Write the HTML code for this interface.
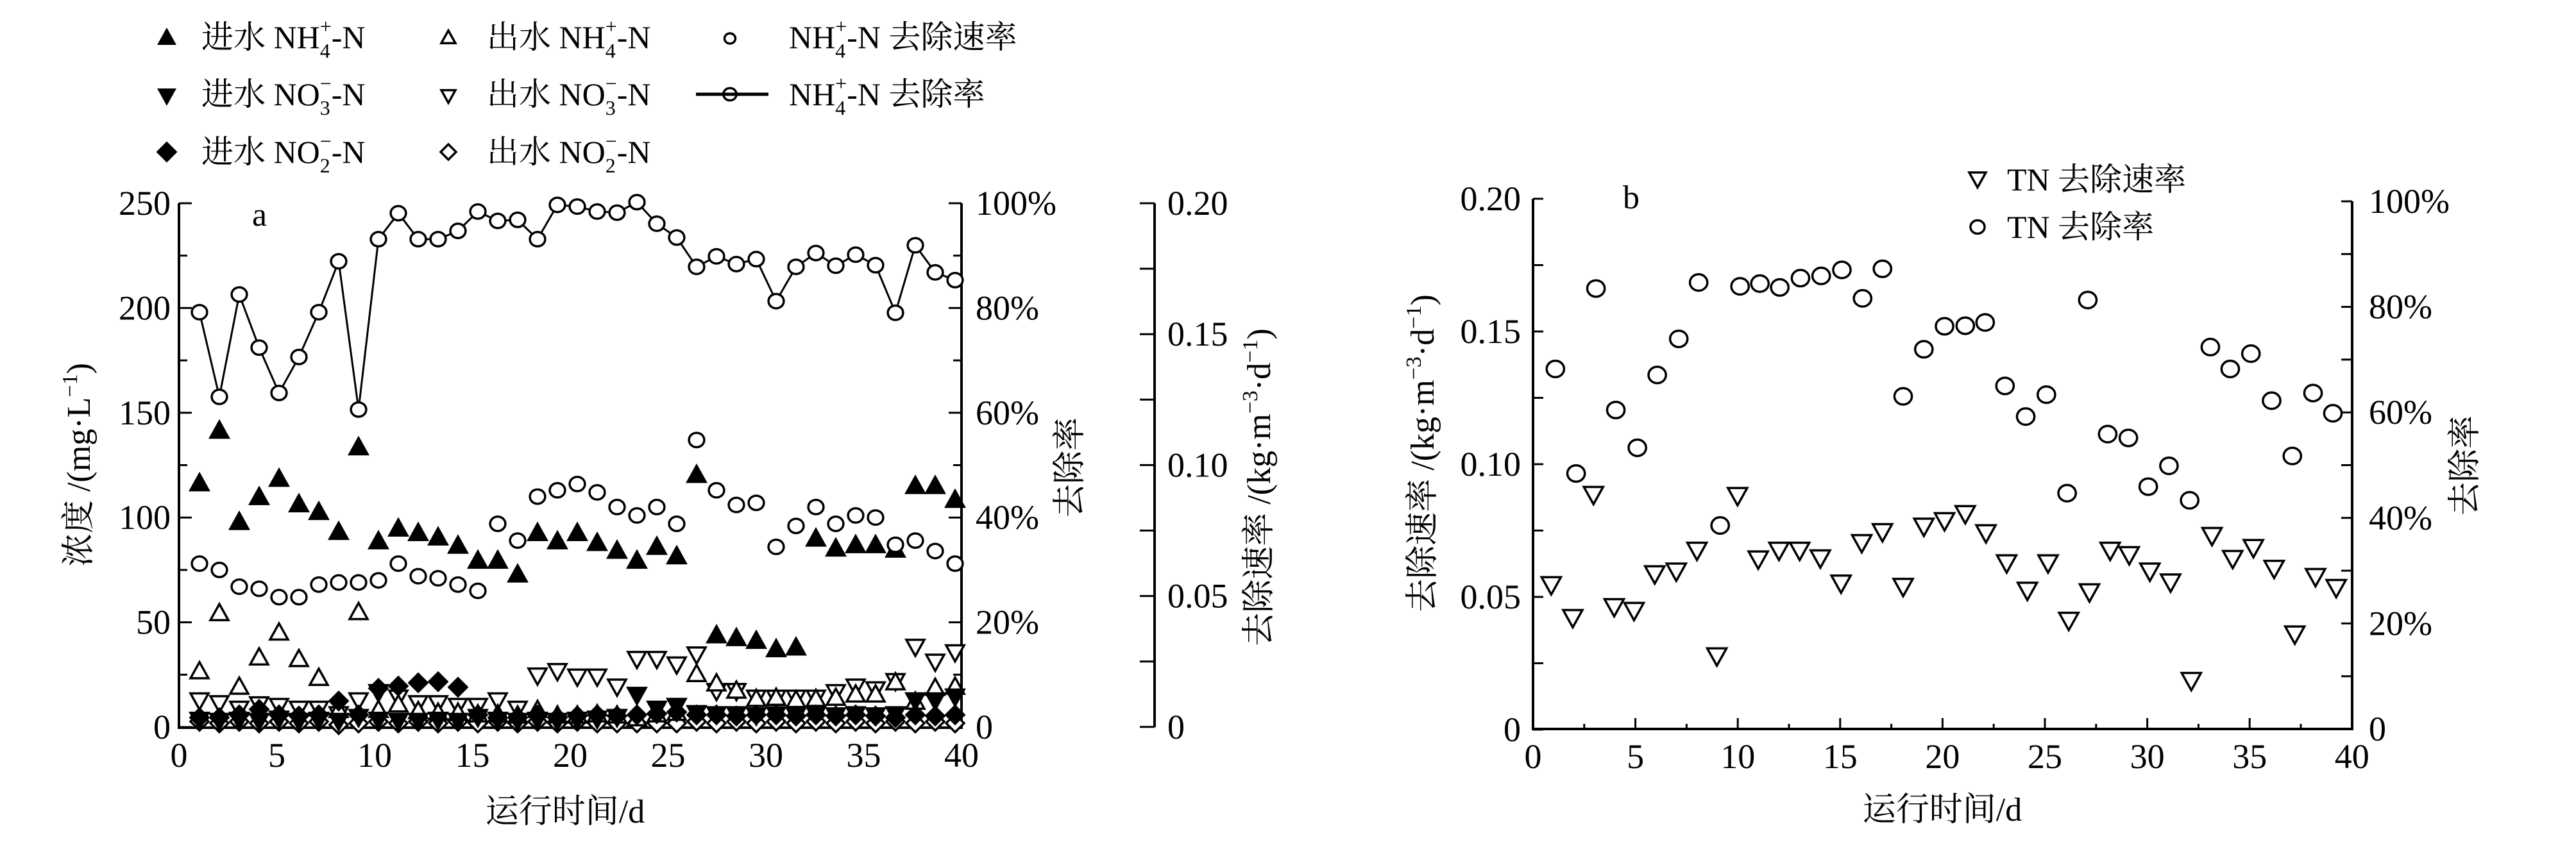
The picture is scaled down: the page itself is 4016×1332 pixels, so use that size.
<!DOCTYPE html>
<html><head><meta charset="utf-8"><style>
html,body{margin:0;padding:0;background:#fff;}
svg{display:block;}
text{font-family:"Liberation Serif","Noto Serif CJK SC",serif;fill:#000;}
</style></head><body>
<svg id="s" width="4016" height="1332" viewBox="0 0 4016 1332" xmlns="http://www.w3.org/2000/svg">
<rect width="4016" height="1332" fill="#fff"/>
<g id="g"></g>
<g font-size="50">
<text x="314" y="75">进水 NH<tspan font-size="32" dy="15">4</tspan><tspan font-size="32" dx="-16" dy="-38">+</tspan><tspan dy="23">-N</tspan></text>
<text x="759" y="75">出水 NH<tspan font-size="32" dy="15">4</tspan><tspan font-size="32" dx="-16" dy="-38">+</tspan><tspan dy="23">-N</tspan></text>
<text x="1230" y="75">NH<tspan font-size="32" dy="15">4</tspan><tspan font-size="32" dx="-16" dy="-38">+</tspan><tspan dy="23">-N 去除速率</tspan></text>
<text x="314" y="164">进水 NO<tspan font-size="32" dy="15">3</tspan><tspan font-size="32" dx="-16" dy="-38">−</tspan><tspan dy="23">-N</tspan></text>
<text x="759" y="164">出水 NO<tspan font-size="32" dy="15">3</tspan><tspan font-size="32" dx="-16" dy="-38">−</tspan><tspan dy="23">-N</tspan></text>
<text x="1230" y="164">NH<tspan font-size="32" dy="15">4</tspan><tspan font-size="32" dx="-16" dy="-38">+</tspan><tspan dy="23">-N 去除率</tspan></text>
<text x="314" y="254">进水 NO<tspan font-size="32" dy="15">2</tspan><tspan font-size="32" dx="-16" dy="-38">−</tspan><tspan dy="23">-N</tspan></text>
<text x="759" y="254">出水 NO<tspan font-size="32" dy="15">2</tspan><tspan font-size="32" dx="-16" dy="-38">−</tspan><tspan dy="23">-N</tspan></text>
</g>
<line x1="1085" y1="147" x2="1198" y2="147" stroke="#000" stroke-width="5"/>
<text x="393" y="352" font-size="52">a</text>
<text x="2530" y="325" font-size="52">b</text>
<text font-size="52" text-anchor="middle" transform="translate(140,725) rotate(-90)">浓度 /(mg·L<tspan font-size="34" dy="-20">−1</tspan><tspan dy="20">)</tspan></text>
<text font-size="52" text-anchor="middle" transform="translate(1685,729) rotate(-90)">去除率</text>
<text font-size="52" text-anchor="middle" transform="translate(1980,760) rotate(-90)">去除速率 /(kg·m<tspan font-size="34" dy="-20">−3</tspan><tspan dy="20">·d</tspan><tspan font-size="34" dy="-20">−1</tspan><tspan dy="20">)</tspan></text>
<text x="881" y="1283" font-size="52" text-anchor="middle">运行时间/d</text>
<text font-size="52" text-anchor="middle" transform="translate(2235,707) rotate(-90)">去除速率 /(kg·m<tspan font-size="34" dy="-20">−3</tspan><tspan dy="20">·d</tspan><tspan font-size="34" dy="-20">−1</tspan><tspan dy="20">)</tspan></text>
<text font-size="52" text-anchor="middle" transform="translate(3860,726) rotate(-90)">去除率</text>
<text x="3028" y="1280" font-size="52" text-anchor="middle">运行时间/d</text>
<text x="3129" y="297" font-size="50">TN 去除速率</text>
<text x="3129" y="371" font-size="50">TN 去除率</text>
</svg>
<script>
var NS="http://www.w3.org/2000/svg",G=document.getElementById("g");
function el(t,a,txt){var e=document.createElementNS(NS,t);for(var k in a)e.setAttribute(k,a[k]);if(txt!==undefined)e.textContent=txt;G.appendChild(e);return e;}
function line(x1,y1,x2,y2,w){el("line",{x1:x1,y1:y1,x2:x2,y2:y2,stroke:"#000","stroke-width":w||4});}
function txt(x,y,s,anchor,fs){el("text",{x:x,y:y,"font-size":fs||52,"text-anchor":anchor||"start"},s);}
function mk(type,x,y,sz){
  var s=sz||15,st={stroke:"#000","stroke-width":3.5};
  var fill=(type[0]=="F")?"#000":"#fff";
  if(type.indexOf("up")>0){el("polygon",Object.assign({points:(x-s)+","+(y+s*0.85)+" "+(x+s)+","+(y+s*0.85)+" "+x+","+(y-s*0.95),fill:fill},st));}
  else if(type.indexOf("dn")>0){el("polygon",Object.assign({points:(x-s)+","+(y-s*0.85)+" "+(x+s)+","+(y-s*0.85)+" "+x+","+(y+s*0.95),fill:fill},st));}
  else if(type.indexOf("dm")>0){el("polygon",Object.assign({points:x+","+(y-s)+" "+(x+s)+","+y+" "+x+","+(y+s)+" "+(x-s)+","+y,fill:fill},st));}
  else {el("ellipse",Object.assign({cx:x,cy:y,rx:s*0.85,ry:s*0.8,fill:"#fff"},st));}
}
var ax=function(i){return 311+i*31;}, ay=function(yz){return 317+(yz-375)*0.8627;};
var pct=[572,725,540,636,718,653,572,480,748,440,393,440,440,425,390,407,405,440,378,381,390,392,373,412,437,490,471,485,476,552,490,465,488,468,487,573,451,500,514];
var rateV=[78,75,67,66,62,62,68,69,69,70,78,72,71,68,65,97,89,110,113,116,112,105,101,105,97,137,113,106,107,86,96,105,97,101,100,87,89,84,78];
var inNH=[880,785,950,905,872,918,932,968,815,985,962,970,978,993,1020,1020,1045,970,985,970,988,1002,1020,995,1012,865,1155,1160,1165,1180,1177,980,998,992,992,1000,885,885,910];
var outNH=[1220,1115,1248,1195,1150,1198,1232,1290,1113,1290,1280,1292,1295,1295,1298,1298,1300,1290,1300,1300,1298,1300,1305,1298,1295,1225,1242,1255,1270,1268,1272,1270,1268,1262,1262,1240,1275,1250,1248];
var outNO3=[1275,1280,1290,1282,1285,1290,1290,1300,1275,1260,1270,1280,1280,1285,1285,1275,1290,1230,1222,1232,1232,1250,1200,1200,1210,1192,1258,1258,1270,1270,1270,1270,1260,1250,1255,1240,1178,1205,1188];
var inNO3=[1310,1312,1310,1312,1308,1312,1310,1312,1305,1310,1312,1312,1310,1312,1305,1310,1312,1310,1312,1310,1308,1305,1265,1290,1285,1298,1300,1300,1302,1300,1302,1300,1302,1300,1302,1300,1275,1275,1268];
var inNO2=[1305,1305,1300,1290,1300,1302,1300,1275,1300,1252,1248,1242,1240,1250,1300,1305,1305,1300,1305,1302,1300,1302,1300,1298,1295,1300,1300,1302,1300,1300,1302,1300,1302,1300,1302,1305,1300,1302,1300];
var outNO2=[1312,1315,1312,1315,1312,1315,1312,1318,1315,1312,1315,1312,1315,1312,1315,1312,1315,1312,1315,1312,1315,1315,1315,1315,1315,1312,1315,1312,1315,1312,1315,1312,1315,1312,1315,1312,1315,1312,1315];
line(279,317,279,1136);line(277,1135,1501,1135);line(1499,317,1499,1136);
for(var i=0;i<=10;i++){var y=317+i*81.7;line(279,y,i%2?292:299,y,3);}
for(i=0;i<=5;i++){txt(266,317+i*163.4+18,String(250-i*50),"end",54);}
for(i=0;i<=10;i++){var y=317+i*81.7;line(1499,y,i%2?1486:1479,y,3);}
var pl=["100%","80%","60%","40%","20%","0"];
for(i=0;i<=5;i++)txt(1521,317+i*163.4+18,pl[i],"start",54);
line(1800,317,1800,1134);
for(i=0;i<=8;i++){var y=317+i*102.1;line(1800,y,1777,y,3);}
var rl=["0.20","0.15","0.10","0.05","0"];
for(i=0;i<=4;i++)txt(1820,317+i*204.2+18,rl[i],"start",54);
for(i=0;i<=8;i++)txt(279+i*152.5,1196,String(i*5),"middle",54);
var sd=14;
for(i=0;i<39;i++){mk("Odm",ax(i),ay(outNO2[i]),sd);}
for(i=0;i<39;i++){mk("Odn",ax(i),ay(outNO3[i]),sd);}
for(i=0;i<39;i++){mk("Oup",ax(i),ay(outNH[i]),sd);}
for(i=0;i<39;i++){mk("Fdm",ax(i),ay(inNO2[i]),sd);}
for(i=0;i<39;i++){mk("Fdn",ax(i),ay(inNO3[i]),sd);}
for(i=0;i<39;i++){mk("Fup",ax(i),ay(inNH[i]),sd);}
var pts=[];for(i=0;i<39;i++)pts.push(ax(i)+","+ay(pct[i]));
el("polyline",{points:pts.join(" "),fill:"none",stroke:"#000","stroke-width":3});
for(i=0;i<39;i++)mk("Oc",ax(i),ay(pct[i]),14);
for(i=0;i<39;i++)mk("Oc",ax(i),1134-rateV[i]*3.268,14);
mk("Fup",260,58,12);mk("Oup",699,58,11);mk("Oc",1138,60,10);
mk("Fdn",260,150,12);mk("Odn",699,150,11);mk("Oc",1138,147,12);
mk("Fdm",260,237,14);mk("Odm",699,237,12);
var bx=function(xz){return 2390+(xz-300)*1.2909;}, by=function(yz){return 310+(yz-365)*0.8536;};
line(2390,310,2390,1139);line(2388,1137,3669,1137);line(3667,314,3667,1139);
for(i=0;i<=8;i++){var y=310+i*103.5;line(2390,y,2406,y,3);}
for(i=0;i<=4;i++)txt(2371,310+i*207+18,rl[i],"end",54);
for(i=0;i<=10;i++){var y=314+i*82.3;line(3667,y,3650,y,3);}
for(i=0;i<=5;i++)txt(3693,314+i*164.6+18,pl[i],"start",54);
for(i=1;i<16;i++){var x=2390+i*79.8;line(x,1137,x,i%2?1129:1120,3);}
for(i=0;i<=8;i++)txt(2390+i*159.6,1198,String(i*5),"middle",54);
var BX=[322,348,373,398,422,447,473,498,522,547,572,597,622,647,672,697,722,747,772,797,822,847,872,897,922,947,972,997,1020,1045,1070,1095,1120,1145,1170,1195,1220,1245,1270];
var tri=[1075,1135,910,1115,1122,1055,1050,1012,1205,912,1028,1012,1012,1026,1072,998,978,1078,968,958,945,980,1035,1085,1035,1140,1088,1012,1020,1050,1070,1250,985,1027,1007,1045,1165,1060,1080];
var CX=[327,352,376,400,426,450,476,500,526,550,574,598,623,648,673,698,722,747,772,797,822,846,870,895,920,945,970,994,1019,1043,1068,1093,1118,1142,1167,1192,1217,1242,1266];
var cir=[676,867,529,751,820,687,621,518,962,525,520,527,510,506,495,547,493,726,640,598,597,591,707,763,723,903,550,795,802,891,853,916,636,676,648,734,835,720,757];
for(i=0;i<39;i++)mk("Odn",bx(BX[i]),by(tri[i])-3,15);
for(i=0;i<39;i++)mk("Oc",bx(CX[i]),by(cir[i]),16);
mk("Odn",3083,280,13);mk("Oc",3083,354,13);
</script>
</body></html>
